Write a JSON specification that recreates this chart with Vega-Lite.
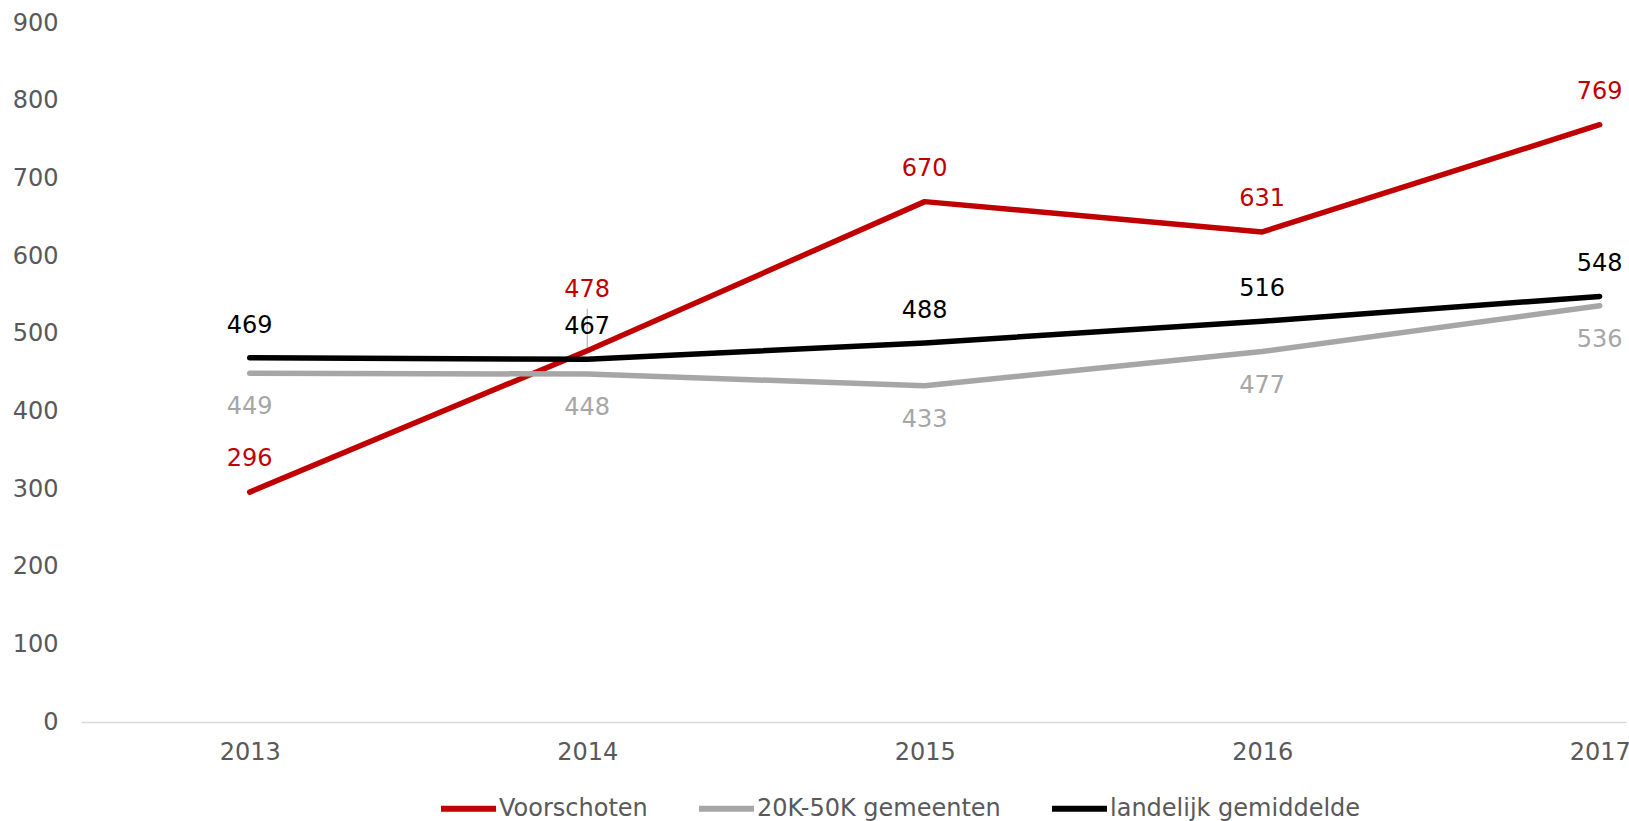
{
  "$schema": "https://vega.github.io/schema/vega-lite/v6.json",
  "width": 1545,
  "height": 699,
  "autosize": {"type": "none"},
  "padding": {"left": 81, "top": 23, "right": 3, "bottom": 99},
  "background": "white",
  "config": {
    "view": {"stroke": null},
    "font": "DejaVu Sans"
  },
  "data": {
    "values": [
      {"year": 2013, "series": "Voorschoten", "value": 296},
      {"year": 2014, "series": "Voorschoten", "value": 478},
      {"year": 2015, "series": "Voorschoten", "value": 670},
      {"year": 2016, "series": "Voorschoten", "value": 631},
      {"year": 2017, "series": "Voorschoten", "value": 769},
      {"year": 2013, "series": "20K-50K gemeenten", "value": 449},
      {"year": 2014, "series": "20K-50K gemeenten", "value": 448},
      {"year": 2015, "series": "20K-50K gemeenten", "value": 433},
      {"year": 2016, "series": "20K-50K gemeenten", "value": 477},
      {"year": 2017, "series": "20K-50K gemeenten", "value": 536},
      {"year": 2013, "series": "landelijk gemiddelde", "value": 469},
      {"year": 2014, "series": "landelijk gemiddelde", "value": 467},
      {"year": 2015, "series": "landelijk gemiddelde", "value": 488},
      {"year": 2016, "series": "landelijk gemiddelde", "value": 516},
      {"year": 2017, "series": "landelijk gemiddelde", "value": 548}
    ]
  },
  "encoding": {
    "x": {
      "field": "year",
      "type": "quantitative",
      "scale": {"domain": [2012.5, 2017.078], "nice": false, "zero": false},
      "axis": {
        "title": null,
        "values": [2013, 2014, 2015, 2016, 2017],
        "format": "d",
        "grid": false,
        "ticks": false,
        "domainColor": "#D9D9D9",
        "domainWidth": 1.5,
        "labelFontSize": 24,
        "labelColor": "#595959",
        "labelPadding": 18,
        "labelFlush": false,
        "labelOverlap": false
      }
    },
    "y": {
      "field": "value",
      "type": "quantitative",
      "scale": {"domain": [0, 900], "nice": false},
      "axis": {
        "title": null,
        "values": [0, 100, 200, 300, 400, 500, 600, 700, 800, 900],
        "grid": false,
        "ticks": false,
        "domain": false,
        "labelFontSize": 24,
        "labelColor": "#595959",
        "labelPadding": 23
      }
    }
  },
  "layer": [
    {
      "transform": [{"filter": "datum.series === 'Voorschoten' && datum.year === 2014"}],
      "mark": {"type": "rule", "color": "#A6A6A6", "strokeWidth": 1, "y2Offset": -42},
      "encoding": {"y2": {"field": "value"}}
    },
    {
      "mark": {"type": "line", "strokeWidth": 5.5, "strokeCap": "round", "strokeJoin": "round"},
      "encoding": {
        "color": {
          "field": "series",
          "type": "nominal",
          "sort": ["Voorschoten", "20K-50K gemeenten", "landelijk gemiddelde"],
          "scale": {
            "domain": ["Voorschoten", "20K-50K gemeenten", "landelijk gemiddelde"],
            "range": ["#C00000", "#A6A6A6", "#000000"]
          },
          "legend": {
            "title": null,
            "orient": "none",
            "direction": "horizontal",
            "legendX": 357,
            "legendY": 755,
            "symbolType": "stroke",
            "symbolStrokeWidth": 6,
            "symbolSize": 3025,
            "labelFontSize": 24,
            "labelColor": "#595959",
            "labelOffset": 0,
            "columnPadding": 39,
            "labelLimit": 500
          }
        }
      }
    },
    {
      "transform": [{"filter": "datum.series === 'Voorschoten' && datum.year !== 2014"}],
      "mark": {"type": "text", "fontSize": 24, "color": "#C00000", "baseline": "middle", "dy": -33},
      "encoding": {"text": {"field": "value", "type": "quantitative"}}
    },
    {
      "transform": [{"filter": "datum.series === 'Voorschoten' && datum.year === 2014"}],
      "mark": {"type": "text", "fontSize": 24, "color": "#C00000", "baseline": "middle", "dy": -61},
      "encoding": {"text": {"field": "value", "type": "quantitative"}}
    },
    {
      "transform": [{"filter": "datum.series === 'landelijk gemiddelde'"}],
      "mark": {"type": "text", "fontSize": 24, "color": "#000000", "baseline": "middle", "dy": -32},
      "encoding": {"text": {"field": "value", "type": "quantitative"}}
    },
    {
      "transform": [{"filter": "datum.series === '20K-50K gemeenten'"}],
      "mark": {"type": "text", "fontSize": 24, "color": "#A6A6A6", "baseline": "middle", "dy": 34},
      "encoding": {"text": {"field": "value", "type": "quantitative"}}
    }
  ]
}
